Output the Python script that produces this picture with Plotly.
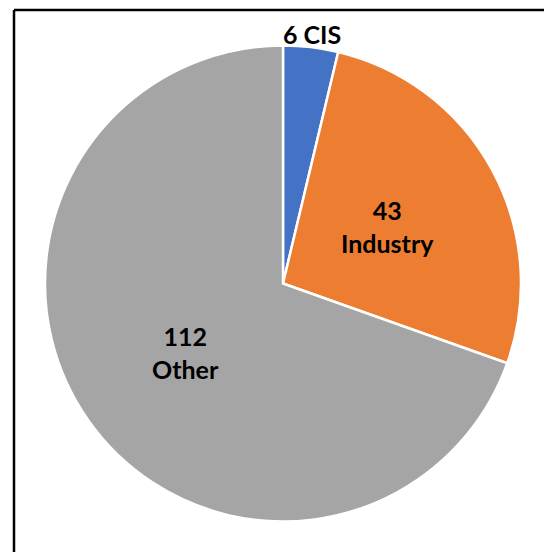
import math
import plotly.graph_objects as go

labels = ['CIS', 'Industry', 'Other']
values = [6, 43, 112]
colors = ['#4472C4', '#ED7D31', '#A5A5A5']
label_text = ['%d %s', '%d<br>%s', '%d<br>%s']

W, H = 544, 552
cx, cy, r = 283, 283.5, 238   # pie centre and radius in px

fig = go.Figure()

fig.add_trace(go.Pie(
    labels=labels, values=values,
    marker=dict(colors=colors, line=dict(color='white', width=2.5)),
    sort=False, direction='clockwise', rotation=0,
    textinfo='none',
    showlegend=False,
    hoverinfo='label+value',
    domain=dict(x=[(cx - r) / W, (cx + r) / W],
                y=[(H - cy - r) / H, (H - cy + r) / H]),
))

# data labels: at half radius inside, just outside the rim for the small slice
total = sum(values)
start = 0
for lab, val, fmt in zip(labels, values, label_text):
    mid = (start + val / 2) / total * 2 * math.pi
    start += val
    d = 0.5 * r if val / total > 0.1 else r + 13
    px = cx + d * math.sin(mid)
    py = cy - d * math.cos(mid)
    fig.add_annotation(
        x=px / W, y=1 - py / H, xref='paper', yref='paper',
        text=fmt % (val, lab), showarrow=False,
        xanchor='center', yanchor='middle',
        font=dict(family='Lato', size=25, color='black', weight='bold'),
    )

# chart frame: only the top and left edges fall inside the window
fig.add_shape(type='line', xref='paper', yref='paper',
              x0=14 / W, x1=1, y0=1 - 10 / H, y1=1 - 10 / H,
              line=dict(color='black', width=2.5))
fig.add_shape(type='line', xref='paper', yref='paper',
              x0=14 / W, x1=14 / W, y0=0, y1=1 - 10 / H,
              line=dict(color='black', width=2.5))

fig.update_layout(
    width=W, height=H,
    margin=dict(l=0, r=0, t=0, b=0),
    paper_bgcolor='white', plot_bgcolor='white',
)

fig.write_html('out.html', config={'displayModeBar': False},
               post_script="document.body.style.margin='0';"
                           "document.body.style.overflow='hidden';")
